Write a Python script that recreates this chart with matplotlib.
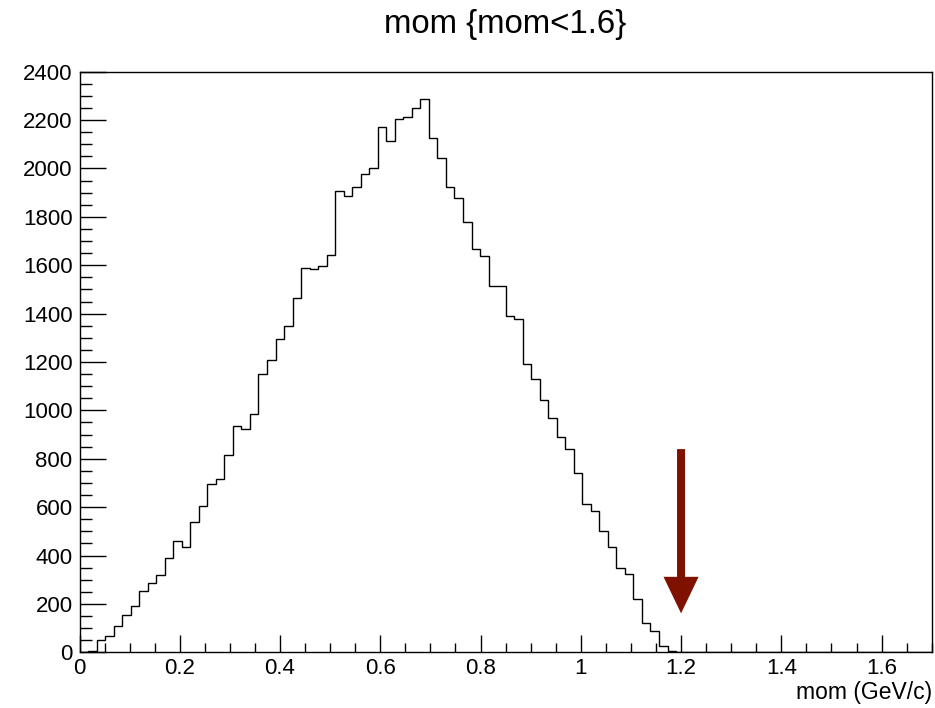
import numpy as np
import matplotlib
matplotlib.use("Agg")
import matplotlib.pyplot as plt
from matplotlib.patches import FancyArrow
from matplotlib.ticker import MultipleLocator

plt.rcParams['font.family'] = ['Liberation Sans', 'DejaVu Sans']

# ---- data ----
x_min, x_max, n_bins = 0.0, 1.7, 100
counts = [
    3, 6, 51, 66, 108, 154, 193, 252, 287, 320,
    389, 462, 434, 538, 603, 694, 716, 814, 936, 925,
    986, 1152, 1207, 1295, 1350, 1466, 1590, 1583, 1597, 1644,
    1907, 1885, 1924, 1979, 2003, 2170, 2112, 2205, 2212, 2251,
    2287, 2128, 2045, 1924, 1876, 1779, 1666, 1637, 1513, 1516,
    1392, 1376, 1192, 1131, 1043, 970, 891, 841, 742, 611,
    585, 500, 435, 347, 324, 222, 122, 87, 25, 7,
    2, 1, 1, 0, 1, 2, 1, 0, 0, 1,
    0, 0, 1, 0, 0, 0, 0, 0, 0, 0,
    0, 0, 0, 0, 0, 0, 0, 0, 0, 0,
]
title = "mom {mom<1.6}"
xlabel = "mom (GeV/c)"
arrow_x = 1.2
arrow_top = 840
arrow_tip = 161

# ---- figure ----
W, H = 935, 708
fig = plt.figure(figsize=(W / 100, H / 100), dpi=100)
left, right, bottom, top = 79.5, 931.7, 652.3, 71.7
ax = fig.add_axes([left / W, 1 - bottom / H, (right - left) / W, (bottom - top) / H])

edges = np.linspace(x_min, x_max, n_bins + 1)
ax.stairs(counts, edges, color='black', linewidth=1.0, baseline=0)

ax.set_xlim(x_min, x_max)
ax.set_ylim(0, 2400)

ax.xaxis.set_major_locator(MultipleLocator(0.2))
ax.xaxis.set_minor_locator(MultipleLocator(0.05))
ax.yaxis.set_major_locator(MultipleLocator(200))
ax.yaxis.set_minor_locator(MultipleLocator(50))

def fmt_x(v, pos):
    s = f"{v:.1f}"
    if s == "0.0":
        return "0"
    if s.endswith(".0"):
        return s[:-2]
    return s

ax.xaxis.set_major_formatter(plt.FuncFormatter(fmt_x))
ax.yaxis.set_major_formatter(plt.FuncFormatter(lambda v, p: f"{int(round(v))}"))

ax.tick_params(axis='x', which='major', direction='in', length=12.5, width=1.0, labelsize=16, pad=4)
ax.tick_params(axis='x', which='minor', direction='in', length=6.5, width=1.0)
ax.tick_params(axis='y', which='major', direction='in', length=18.5, width=1.0, labelsize=16, pad=5)
ax.tick_params(axis='y', which='minor', direction='in', length=8.9, width=1.0)
ax.tick_params(top=False, right=False, which='both')

for sp in ax.spines.values():
    sp.set_linewidth(1.0)

# arrow
head_len = 151
arr = FancyArrow(arrow_x, arrow_top, 0, arrow_tip - arrow_top, width=0.016,
                 head_width=0.07, head_length=head_len, length_includes_head=True,
                 color='#7f1100', linewidth=0)
ax.add_patch(arr)

# x label at right
ax.set_xlabel(xlabel, fontsize=16.5)
ax.xaxis.set_label_coords(1.0, -(698.5 - bottom) / (bottom - top))
ax.xaxis.label.set_horizontalalignment('right')
ax.xaxis.label.set_verticalalignment('baseline')

# title
fig.text((left + right) / 2 / W, 1 - 33 / H, title, ha='center', va='baseline', fontsize=23.8)

fig.savefig("out.png", dpi=100)
